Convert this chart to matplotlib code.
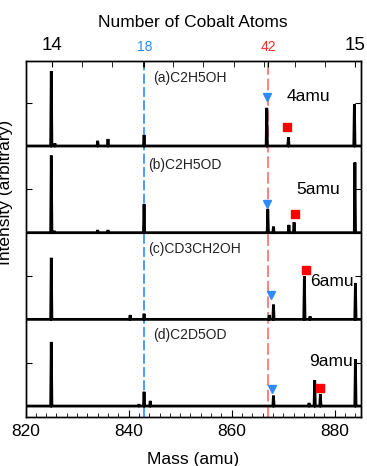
import numpy as np
import matplotlib
matplotlib.use("Agg")
import matplotlib.pyplot as plt
from matplotlib.ticker import MultipleLocator, FixedLocator, NullFormatter

plt.rcParams['font.family'] = ['Liberation Sans', 'DejaVu Sans']

# peak lists per spectrum: mass (amu) and height (fraction of panel spacing)
labels = ['(a)C2H5OH', '(b)C2H5OD', '(c)CD3CH2OH', '(d)C2D5OD']
shifts = ['4amu', '5amu', '6amu', '9amu']

masses_a = [825.0, 825.7, 834.0, 836.0, 843.0, 866.8, 871.0, 883.8]
heights_a = [0.865, 0.03, 0.06, 0.08, 0.127, 0.44, 0.10, 0.48]
masses_b = [825.0, 825.6, 834.0, 836.0, 843.0, 867.0, 868.1, 871.1, 872.1, 883.9]
heights_b = [0.89, 0.02, 0.03, 0.03, 0.33, 0.27, 0.07, 0.09, 0.12, 0.81]
masses_c = [825.0, 840.3, 843.0, 867.3, 868.1, 874.1, 875.2, 884.0]
heights_c = [0.71, 0.05, 0.065, 0.05, 0.17, 0.50, 0.035, 0.42]
masses_d = [825.0, 842.0, 843.0, 844.2, 868.1, 875.0, 876.1, 877.2, 884.0]
heights_d = [0.74, 0.02, 0.165, 0.06, 0.12, 0.035, 0.30, 0.135, 0.54]

# marker positions (mass, height above baseline)
tri_x = [866.8, 866.8, 867.7, 867.8]
tri_y = [0.57, 0.33, 0.28, 0.20]
sq_x = [870.7, 872.2, 874.4, 877.1]
sq_y = [0.22, 0.21, 0.57, 0.21]
shift_x = [870.6, 872.5, 875.3, 875.1]
shift_y = [0.57, 0.50, 0.44, 0.51]
label_x = [844.7, 843.7, 843.7, 844.7]
label_y = [0.79, 0.78, 0.81, 0.82]

# top axis: number of cobalt atoms
co_mass = 58.933
top_ticks = [14 * co_mass, 14 * co_mass + 18, 14 * co_mass + 42, 15 * co_mass]
top_labels = ['14', '18', '42', '15']

spectra = [(masses_a, heights_a), (masses_b, heights_b),
           (masses_c, heights_c), (masses_d, heights_d)]
offsets = [3, 2, 1, 0]

xmin, xmax = 820, 885
blue = '#2E8BFF'
red = '#FF2A2A'

fig = plt.figure(figsize=(3.67, 4.66), dpi=100)
ax = fig.add_axes([0.0695, 0.105, 0.913, 0.764])

for i, (m, h) in enumerate(spectra):
    off = offsets[i]
    xs = [xmin]
    ys = [0.0]
    w = 0.12
    for mm, hh in sorted(zip(m, h)):
        xs += [mm - w, mm, mm + w]
        ys += [0.0, hh, 0.0]
    xs.append(xmax)
    ys.append(0.0)
    ax.plot(xs, np.array(ys) + off, color='black', lw=2.0, solid_joinstyle='miter')

    ax.plot(tri_x[i], tri_y[i] + off, marker='v', color=blue, ms=5.5, ls='none')
    ax.plot(sq_x[i], sq_y[i] + off, marker='s', color='red', ms=6, ls='none')
    ax.text(shift_x[i], shift_y[i] + off, shifts[i], fontsize=12.5, va='center', ha='left')
    ax.text(label_x[i], label_y[i] + off, labels[i], fontsize=10, va='center', ha='left',
            color='#222222')

ax.axvline(top_ticks[1], color=blue, lw=1.2, ls=(0, (6, 2)), zorder=0)
ax.axvline(top_ticks[2], color='#FF8080', lw=1.4, ls=(0, (6, 2)), zorder=0)

ax.set_xlim(xmin, xmax)
ax.set_ylim(-0.127, 3.98)
ax.xaxis.set_major_locator(MultipleLocator(20))
ax.xaxis.set_minor_locator(MultipleLocator(2))
ax.set_yticks([0.5, 1.5, 2.5, 3.5])
ax.set_yticklabels([])
ax.tick_params(axis='x', which='major', direction='in', length=5, labelsize=12.5, pad=5)
ax.tick_params(axis='x', which='minor', direction='in', length=3)
ax.tick_params(axis='y', direction='in', length=4, left=True, right=True)
ax.set_xlabel('Mass (amu)', fontsize=12.5, labelpad=9)
fig.text(0.014, 0.588, 'Intensity (arbitrary)', rotation=90, fontsize=12.5,
         ha='center', va='center')

ax2 = ax.twiny()
ax2.set_xlim(xmin, xmax)
ax2.xaxis.set_major_locator(FixedLocator(top_ticks))
ax2.set_xticklabels(top_labels)
ax2.xaxis.set_minor_locator(FixedLocator([14 * co_mass + k * co_mass / 10 for k in range(11)]))
ax2.xaxis.set_minor_formatter(NullFormatter())
ax2.tick_params(axis='x', which='both', direction='in', length=4, pad=5)
for lab, col, size in zip(ax2.get_xticklabels(), ['black', blue, red, 'black'],
                          [13.5, 10, 10, 13.5]):
    lab.set_color(col)
    lab.set_fontsize(size)
for t, col in zip(ax2.xaxis.get_major_ticks(), ['black', blue, red, 'black']):
    t.tick2line.set_color(col)
ax2.set_xlabel('Number of Cobalt Atoms', fontsize=12.5, labelpad=7)

for a in (ax, ax2):
    for s in a.spines.values():
        s.set_linewidth(1.0)

fig.savefig('out.png', dpi=100)
